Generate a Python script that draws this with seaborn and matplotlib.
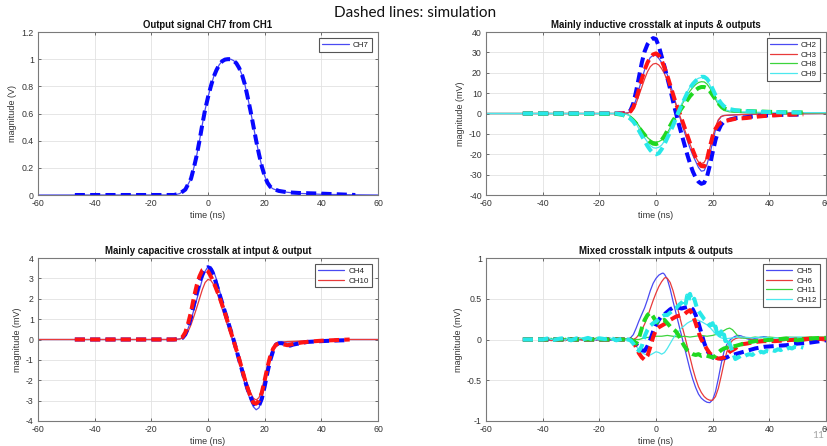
import matplotlib
matplotlib.use("Agg")
import matplotlib.pyplot as plt
import seaborn as sns

# ---------------- DATA ----------------
# Plot 1: Output signal CH7 from CH1 (V)
ch7_meas_t = [-60, -20, -12, -10, -8, -6, -5, -4, -3, -2, -1, 0, 1, 2, 3, 4, 5, 6, 7, 8, 9, 10, 11, 12, 13, 14, 15, 16, 17, 18, 19, 20, 21, 22, 23, 25, 28, 32, 40, 50, 60]
ch7_meas_v = [0, 0, 0, 0.01, 0.04, 0.12, 0.20, 0.29, 0.40, 0.52, 0.63, 0.72, 0.80, 0.87, 0.92, 0.96, 0.985, 0.997, 1.0, 1.0, 0.99, 0.97, 0.935, 0.885, 0.815, 0.72, 0.62, 0.51, 0.40, 0.30, 0.21, 0.14, 0.09, 0.06, 0.045, 0.03, 0.02, 0.012, 0.005, 0.002, 0]
ch7_sim_t = [-47, -20, -12, -10, -8, -6, -5, -4, -3, -2, -1, 0, 1, 2, 3, 4, 5, 6, 7, 8, 9, 10, 11, 12, 13, 14, 15, 16, 17, 18, 19, 20, 21, 22, 23, 25, 28, 32, 40, 46, 52]
ch7_sim_v = [0, 0, 0, 0.01, 0.04, 0.12, 0.20, 0.29, 0.40, 0.52, 0.63, 0.72, 0.80, 0.87, 0.92, 0.96, 0.985, 0.997, 1.0, 1.0, 0.99, 0.97, 0.935, 0.885, 0.815, 0.72, 0.62, 0.51, 0.40, 0.30, 0.21, 0.14, 0.09, 0.06, 0.045, 0.03, 0.02, 0.015, 0.01, 0.005, 0]

# Plot 2: Mainly inductive crosstalk (mV)
p2_meas_t = [-60, -12, -10, -9, -8, -7, -6, -5, -4, -3, -2, -1, 0, 1, 2, 3, 4, 5, 6, 7, 8, 9, 10, 11, 12, 13, 14, 15, 16, 17, 18, 19, 20, 21, 22, 23, 24, 26, 30, 40, 60]
ch2_meas = [0, 0, 0.3, 1, 3, 7, 12, 17, 21.5, 25, 27.5, 28.5, 28.5, 27, 25, 22.5, 19, 14.5, 10, 5, 0, -4.5, -9, -13, -17, -20.5, -23.5, -26.5, -28.3, -28, -25, -20, -14, -8, -3.5, -1.5, -1, -0.8, -0.5, -0.2, 0]
ch3_meas = [0, 0, 0.2, 0.8, 2, 5, 9, 13, 17, 20.5, 23, 24.3, 24.6, 23.8, 22, 19.5, 16, 12.5, 8.5, 4.5, 0.5, -3.5, -7.5, -11.5, -15, -18.5, -21.5, -23.8, -24.6, -24, -21.5, -17, -11.5, -6.5, -3, -1.5, -1, -0.8, -0.5, -0.2, 0]
ch8_meas = [0, 0, -0.5, -1.3, -2.5, -4, -6, -8, -10, -11.8, -13, -13.8, -14, -13.8, -13, -11.5, -9.5, -7, -4.5, -1.5, 1.5, 4, 6.5, 9, 11, 12.8, 14.2, 15.2, 15.6, 15.5, 14.5, 12.5, 10, 7, 4.5, 2.5, 1.5, 0.8, 0.5, 0.3, 0.3]
ch9_meas = [0, 0, -0.6, -1.5, -3, -5, -7.5, -10, -12, -14, -15.8, -16.8, -17, -16.6, -15.5, -13.5, -11, -8, -5, -1.8, 1.5, 4.5, 7.5, 10.5, 13, 15, 16.5, 17.3, 17.7, 17.5, 16.5, 14, 11, 8, 5, 3, 2, 1.2, 0.8, 0.5, 0.4]
p2_sim_t = [-47, -14, -12, -10, -9, -8, -7, -6, -5, -4, -3, -2, -1, 0, 1, 2, 3, 4, 5, 6, 7, 8, 9, 10, 11, 12, 13, 14, 15, 16, 17, 18, 19, 20, 21, 22, 23, 24, 26, 28, 32, 36, 40, 46, 52]
ch2_sim = [0, 0, 0, 0.3, 1.5, 5, 11, 18, 25, 30.5, 34, 36, 37, 36.5, 33, 28, 23, 17.5, 12, 6, 0.5, -5, -10, -15, -20, -24.5, -28.5, -31.5, -33.5, -34.5, -34, -31, -25.5, -19, -13, -8.5, -5.5, -4, -3, -2.3, -1.8, -1.2, -0.9, -0.6, -0.5]
ch3_sim = [0, 0, 0, 0.3, 1, 3, 7, 12, 17, 21.5, 25, 27.5, 29, 29.5, 28.5, 26, 22.5, 18.5, 14, 9.5, 5, 1.5, -2.5, -6.5, -10.5, -14.5, -18, -21.5, -24, -25.8, -26, -22.5, -16.5, -11, -7.5, -5.5, -4.3, -3.8, -3.2, -2.6, -2.2, -1.5, -1, -0.6, -0.4]
ch8_sim = [0, -0.2, -0.6, -1.5, -2.3, -3.5, -5, -7, -8.8, -10.5, -12.5, -14, -14.8, -15, -14.5, -13, -11, -8.5, -6, -3.5, -1.5, 0.5, 2.5, 4.5, 6.5, 8.5, 10, 11.5, 12.5, 13, 13, 12.5, 11, 9, 7, 5, 3.5, 2.5, 1.7, 1.4, 1.2, 1, 0.8, 0.6, 0.5]
ch9_sim = [0, 0, -0.5, -1.5, -2.6, -4, -6, -8.5, -11, -13.5, -16, -18, -19.5, -20, -19.5, -17.5, -15, -12, -9, -6, -2.5, 1, 4, 7, 10, 12.5, 14.5, 16, 17.3, 18, 18, 17, 15, 12, 9, 7, 5, 3.5, 2.2, 1.6, 1.1, 0.9, 0.7, 0.6, 0.5]

# Plot 3: Mainly capacitive crosstalk (mV)
p3_meas_t = [-60, -20, -12, -10, -9, -8, -7, -6, -5, -4, -3, -2, -1, 0, 1, 2, 3, 4, 5, 6, 7, 8, 9, 10, 11, 12, 13, 14, 15, 16, 17, 18, 19, 20, 21, 22, 23, 24, 25, 28, 32, 40, 50, 60]
ch4_meas = [0, 0, 0, 0.03, 0.1, 0.25, 0.55, 0.95, 1.45, 1.95, 2.45, 2.95, 3.35, 3.58, 3.58, 3.35, 2.95, 2.45, 1.9, 1.35, 0.85, 0.35, -0.15, -0.65, -1.15, -1.65, -2.15, -2.6, -3.0, -3.3, -3.45, -3.35, -2.9, -2.2, -1.5, -0.9, -0.45, -0.25, -0.18, -0.12, -0.1, -0.05, 0, 0]
ch10_meas = [0, 0, 0, 0.02, 0.07, 0.18, 0.4, 0.72, 1.12, 1.55, 2.0, 2.45, 2.8, 2.95, 2.9, 2.7, 2.35, 1.95, 1.5, 1.05, 0.65, 0.25, -0.15, -0.55, -0.97, -1.4, -1.82, -2.2, -2.6, -2.88, -2.97, -2.85, -2.45, -1.85, -1.25, -0.75, -0.4, -0.22, -0.15, -0.1, -0.08, -0.04, 0, 0]
ch4_sim_t = [-47, -30, -12, -10, -9, -8, -7, -6, -5, -4, -3, -2, -1, 0, 1, 2, 3, 4, 5, 6, 7, 8, 9, 10, 11, 12, 13, 14, 15, 16, 17, 18, 19, 20, 21, 22, 23, 24, 25, 26, 27, 28, 29, 30, 35, 40, 45, 50]
ch4_sim = [0, 0, 0, 0.02, 0.08, 0.25, 0.6, 1.1, 1.7, 2.3, 2.85, 3.2, 3.45, 3.55, 3.45, 3.15, 2.7, 2.25, 1.8, 1.35, 0.9, 0.45, 0.0, -0.5, -1.0, -1.5, -2.0, -2.45, -2.8, -3.1, -3.3, -3.25, -2.9, -2.3, -1.6, -1.0, -0.55, -0.25, -0.18, -0.18, -0.22, -0.28, -0.3, -0.25, -0.12, -0.08, -0.05, -0.03]
ch10_sim_t = [-47, -30, -12, -10, -9, -8, -7, -6, -5, -4, -3, -2, -1, 0, 1, 2, 3, 4, 5, 6, 7, 8, 9, 10, 11, 12, 13, 14, 15, 16, 17, 18, 19, 20, 21, 22, 23, 24, 25, 26, 27, 28, 30, 33, 36, 40, 45, 50]
ch10_sim = [0, 0, 0, 0.03, 0.12, 0.35, 0.8, 1.35, 2.05, 2.65, 3.1, 3.4, 3.45, 3.35, 3.1, 2.8, 2.45, 2.1, 1.7, 1.3, 0.85, 0.4, -0.05, -0.5, -0.95, -1.45, -1.95, -2.4, -2.8, -3.1, -3.15, -3.0, -2.6, -2.0, -1.35, -0.8, -0.45, -0.25, -0.2, -0.22, -0.25, -0.28, -0.22, -0.15, -0.1, -0.06, -0.03, 0]

# Plot 4: Mixed crosstalk (mV)
p4_flat_t = [-40, -39, -38, -37, -36, -35, -34, -33, -32, -31, -30, -29, -28, -27, -26, -25, -24, -23, -22, -21, -20, -19, -18, -17, -16, -15, -14, -13, -12, -11, -10, -9]
ch5_flat = [-0.01, 0.0, -0.015, 0.005, -0.01, 0.01, -0.005, -0.015, 0.0, -0.01, 0.005, -0.01, 0.01, -0.005, 0.0, -0.015, 0.005, -0.005, 0.01, -0.01, 0.0, 0.01, -0.005, 0.005, -0.01, 0.0, 0.01, -0.005, 0.005, 0.0, 0.01, 0.02]
ch6_flat = [0.0, -0.01, 0.005, -0.015, 0.0, -0.01, 0.01, -0.005, -0.015, 0.005, -0.01, 0.0, -0.015, 0.005, -0.01, 0.0, -0.01, 0.01, -0.005, 0.0, -0.015, 0.0, 0.005, -0.01, 0.0, -0.005, 0.0, -0.01, 0.005, -0.005, 0.0, 0.0]
ch11_flat = [0.01, 0.02, 0.005, 0.015, 0.0, 0.02, 0.01, 0.0, 0.015, 0.005, 0.02, 0.0, 0.01, 0.02, 0.005, 0.01, 0.0, 0.015, 0.005, 0.02, 0.01, 0.0, 0.01, 0.015, 0.0, 0.01, 0.005, 0.015, 0.0, 0.01, 0.005, 0.0]
ch12_flat = [0.02, -0.01, 0.025, 0.0, 0.015, -0.015, 0.02, 0.005, -0.01, 0.025, 0.0, 0.01, -0.02, 0.015, 0.02, -0.005, 0.01, 0.025, -0.01, 0.005, 0.02, -0.015, 0.01, 0.0, 0.02, -0.01, 0.015, 0.0, 0.01, -0.01, 0.005, 0.0]
ch5_act_t = [-8, -7, -6, -5, -4, -3, -2, -1, 0, 1, 2, 2.5, 3, 4, 5, 6, 7, 8, 9, 10, 11, 12, 13, 14, 15, 16, 17, 18, 19, 20, 21, 22, 23, 24, 25, 26, 27, 28, 29, 30, 31, 32, 33, 34, 35, 36, 37, 38, 39, 40, 42, 44, 46, 48, 50, 52, 54, 56, 58, 60]
ch5_act = [0.06, 0.14, 0.23, 0.31, 0.39, 0.49, 0.6, 0.69, 0.75, 0.79, 0.81, 0.815, 0.8, 0.74, 0.62, 0.47, 0.33, 0.19, 0.05, -0.09, -0.23, -0.37, -0.49, -0.59, -0.67, -0.72, -0.75, -0.77, -0.775, -0.74, -0.64, -0.48, -0.3, -0.15, -0.06, -0.01, 0.02, 0.04, 0.05, 0.045, 0.03, 0.01, 0.0, 0.005, 0.015, 0.02, 0.03, 0.035, 0.03, 0.015, 0.0, -0.01, 0.0, -0.01, 0.005, 0.0, -0.005, 0.01, 0.005, 0.01]
ch6_act_t = [-8, -7, -6, -5, -4, -3, -2, -1, 0, 1, 2, 3, 3.5, 4, 5, 6, 7, 8, 9, 10, 11, 12, 13, 14, 15, 16, 17, 18, 19, 20, 21, 22, 23, 24, 25, 26, 27, 28, 29, 30, 31, 32, 34, 36, 38, 40, 42, 44, 46, 48, 50, 52, 54, 56, 58, 60]
ch6_act = [0.0, 0.02, 0.06, 0.12, 0.19, 0.28, 0.38, 0.48, 0.57, 0.65, 0.71, 0.755, 0.76, 0.75, 0.7, 0.6, 0.47, 0.33, 0.19, 0.06, -0.08, -0.22, -0.36, -0.48, -0.58, -0.65, -0.7, -0.73, -0.745, -0.745, -0.7, -0.6, -0.45, -0.29, -0.15, -0.06, -0.01, 0.01, 0.02, 0.02, 0.03, 0.02, 0.0, -0.01, 0.0, -0.015, -0.01, -0.02, -0.01, -0.015, -0.01, -0.02, -0.01, -0.015, -0.01, -0.02]
ch11_act_t = [-8, -6, -4, -2, 0, 2, 4, 6, 8, 10, 12, 14, 16, 18, 20, 22, 23, 24, 25, 26, 27, 28, 29, 30, 31, 33, 35, 37, 40, 43, 46, 50, 55, 60]
ch11_act = [0.0, 0.0, 0.02, 0.03, 0.04, 0.04, 0.05, 0.04, 0.03, 0.04, 0.03, 0.04, 0.05, 0.04, 0.05, 0.07, 0.09, 0.11, 0.13, 0.14, 0.12, 0.08, 0.04, 0.02, 0.015, 0.02, 0.03, 0.02, 0.03, 0.02, 0.03, 0.025, 0.03, 0.03]
ch12_act_t = [-8, -7, -6, -5, -4, -3, -2, -1, 0, 1, 2, 3, 4, 5, 6, 7, 8, 9, 10, 11, 12, 13, 14, 15, 16, 17, 18, 19, 20, 21, 22, 23, 24, 25, 27, 29, 31, 34, 37, 40, 45, 50, 55, 60]
ch12_act = [-0.02, -0.08, -0.13, -0.16, -0.18, -0.19, -0.19, -0.17, -0.15, -0.16, -0.18, -0.16, -0.11, -0.05, 0.01, 0.06, 0.1, 0.14, 0.17, 0.2, 0.22, 0.235, 0.24, 0.235, 0.22, 0.2, 0.18, 0.15, 0.11, 0.07, 0.04, 0.02, 0.01, 0.01, 0.02, 0.03, 0.03, 0.02, 0.03, 0.02, 0.02, 0.03, 0.02, 0.02]

p4_sim_t = [-47, -30, -15, -10, -9, -8, -7, -6, -5, -4, -3, -2, -1, 0, 1, 2, 3, 4, 5, 6, 7, 8, 9, 10, 11, 12, 13, 14, 15, 16, 17, 18, 19, 20, 21, 22, 23, 24, 25, 26, 27, 28, 29, 30, 32, 35, 38, 42, 46, 50, 54, 58, 60]
ch5_sim = [0, 0, 0, 0, 0, -0.03, -0.06, -0.1, -0.13, -0.14, -0.08, 0.0, 0.1, 0.18, 0.24, 0.29, 0.31, 0.34, 0.37, 0.39, 0.4, 0.39, 0.38, 0.39, 0.4, 0.4, 0.37, 0.3, 0.2, 0.08, -0.04, -0.13, -0.19, -0.22, -0.23, -0.235, -0.235, -0.23, -0.22, -0.2, -0.19, -0.18, -0.17, -0.16, -0.14, -0.11, -0.09, -0.08, -0.07, -0.05, -0.04, -0.02, -0.01]
ch6_sim = [0, 0, 0, 0, 0, -0.02, -0.1, -0.17, -0.22, -0.25, -0.2, -0.09, 0.03, 0.12, 0.15, 0.17, 0.19, 0.21, 0.24, 0.26, 0.28, 0.29, 0.3, 0.31, 0.34, 0.36, 0.3, 0.2, 0.09, 0.0, -0.06, -0.12, -0.17, -0.2, -0.22, -0.235, -0.23, -0.22, -0.19, -0.15, -0.13, -0.11, -0.08, -0.06, -0.05, -0.03, -0.02, -0.02, -0.01, 0.0, 0.01, 0.01, 0.01]
ch11_sim = [0, 0, 0, 0, 0, -0.02, -0.05, 0.02, 0.14, 0.24, 0.3, 0.33, 0.28, 0.22, 0.2, 0.23, 0.24, 0.2, 0.16, 0.13, 0.1, 0.05, -0.02, -0.08, -0.13, -0.16, -0.18, -0.19, -0.18, -0.2, -0.19, -0.2, -0.21, -0.22, -0.2, -0.16, -0.13, -0.11, -0.1, -0.09, -0.085, -0.08, -0.07, -0.06, -0.04, -0.02, -0.01, 0.0, 0.01, -0.01, 0.01, 0.02, 0.02]
ch12_sim_t = [-47, -40, -38, -36, -34, -32, -30, -28, -26, -24, -22, -20, -18, -16, -14, -12, -10, -9, -8, -7, -6, -5, -4, -3, -2, -1, 0, 1, 2, 3, 4, 5, 6, 7, 8, 9, 10, 10.5, 11, 11.5, 12, 12.5, 13, 13.5, 14, 14.5, 15, 16, 17, 18, 19, 20, 20.5, 21, 21.5, 22, 22.5, 23, 23.5, 24, 24.5, 25, 26, 27, 28, 29, 30, 31, 32, 33, 34, 35, 36, 37, 38, 39, 40, 41, 42, 43, 44, 45, 46, 47, 48, 49, 50, 51, 52]
ch12_sim = [0, 0, 0.015, -0.005, 0.01, 0.02, -0.01, 0.015, 0.0, 0.02, -0.005, 0.015, 0.005, 0.02, -0.01, 0.01, 0, -0.01, -0.05, -0.1, -0.14, -0.08, 0.04, 0.12, 0.17, 0.2, 0.22, 0.25, 0.28, 0.3, 0.3, 0.33, 0.36, 0.38, 0.42, 0.45, 0.49, 0.44, 0.54, 0.48, 0.56, 0.5, 0.47, 0.5, 0.44, 0.38, 0.35, 0.3, 0.25, 0.22, 0.17, 0.2, 0.12, 0.16, 0.08, 0.12, 0.05, 0.1, 0.02, 0.06, -0.02, 0.02, -0.05, -0.15, -0.24, -0.22, -0.2, -0.21, -0.19, -0.18, -0.19, -0.16, -0.17, -0.15, -0.16, -0.14, -0.15, -0.13, -0.14, -0.12, -0.13, -0.11, -0.12, -0.1, -0.11, -0.09, -0.1, -0.09, -0.1]

titles = ["Output signal CH7 from CH1", "Mainly inductive crosstalk at inputs & outputs",
          "Mainly capacitive crosstalk at intput & output", "Mixed crosstalk intputs & outputs"]
ylabels = ["magnitude (V)", "magnitude (mV)", "magnitude (mV)", "magnitude (mV)"]
xticks = [-60, -40, -20, 0, 20, 40, 60]
yticks = [[0, 0.2, 0.4, 0.6, 0.8, 1, 1.2], list(range(-40, 41, 10)), list(range(-4, 5)), [-1, -0.5, 0, 0.5, 1]]
ylims = [(0, 1.2), (-40, 40), (-4, 4), (-1, 1)]

# ---------------- STYLE ----------------
sns.set_theme(style="whitegrid")
plt.rcParams["font.family"] = ["Liberation Sans", "DejaVu Sans"]

THIN = {"b": "#4a4af2", "r": "#e83a3a", "g": "#3cd43c", "c": "#4ce8ee"}
DASH = {"b": "#0808ff", "r": "#ff1414", "g": "#20d820", "c": "#28e8e8"}
DLS = (0, (2.5, 1.3))
DLW = 2.9
TLW = 0.9

fig = plt.figure(figsize=(8.27, 4.46), dpi=100)
W, H = 827, 446
pos = [(38, 32), (486, 32), (38, 258), (486, 258)]
axes = [fig.add_axes([x / W, 1 - (y + 163) / H, 340 / W, 163 / H]) for x, y in pos]


def thin(ax, t, v, c, lab):
    sns.lineplot(x=t, y=v, ax=ax, color=THIN[c], lw=TLW, label=lab, estimator=None, sort=False)


def dashed(ax, t, v, c):
    sns.lineplot(x=t, y=v, ax=ax, color=DASH[c], lw=DLW, linestyle=DLS, legend=False,
                 estimator=None, sort=False, label="_nolegend_")


ax1, ax2, ax3, ax4 = axes
thin(ax1, ch7_meas_t, ch7_meas_v, "b", "CH7")
dashed(ax1, ch7_sim_t, ch7_sim_v, "b")

thin(ax2, p2_meas_t, ch2_meas, "b", "CH2")
thin(ax2, p2_meas_t, ch3_meas, "r", "CH3")
thin(ax2, p2_meas_t, ch8_meas, "g", "CH8")
thin(ax2, p2_meas_t, ch9_meas, "c", "CH9")
dashed(ax2, p2_sim_t, ch2_sim, "b")
dashed(ax2, p2_sim_t, ch3_sim, "r")
dashed(ax2, p2_sim_t, ch8_sim, "g")
dashed(ax2, p2_sim_t, ch9_sim, "c")

thin(ax3, p3_meas_t, ch4_meas, "b", "CH4")
thin(ax3, p3_meas_t, ch10_meas, "r", "CH10")
dashed(ax3, ch4_sim_t, ch4_sim, "b")
dashed(ax3, ch10_sim_t, ch10_sim, "r")

thin(ax4, p4_flat_t + ch5_act_t, ch5_flat + ch5_act, "b", "CH5")
thin(ax4, p4_flat_t + ch6_act_t, ch6_flat + ch6_act, "r", "CH6")
thin(ax4, p4_flat_t + ch11_act_t, ch11_flat + ch11_act, "g", "CH11")
thin(ax4, p4_flat_t + ch12_act_t, ch12_flat + ch12_act, "c", "CH12")
dashed(ax4, p4_sim_t, ch5_sim, "b")
dashed(ax4, p4_sim_t, ch6_sim, "r")
dashed(ax4, p4_sim_t, ch11_sim, "g")
dashed(ax4, ch12_sim_t, ch12_sim, "c")

for i, ax in enumerate(axes):
    ax.set_facecolor("white")
    ax.set_xlim(-60, 60)
    ax.set_ylim(*ylims[i])
    ax.set_xticks(xticks)
    ax.set_yticks(yticks[i])
    ax.set_xticklabels([f"{v:g}" for v in xticks])
    ax.set_yticklabels([f"{v:g}" for v in yticks[i]])
    ax.grid(True, color="#e2e2e2", lw=0.6)
    ax.set_axisbelow(True)
    for s in ax.spines.values():
        s.set_visible(True)
        s.set_color("#7a7a7a")
        s.set_linewidth(0.8)
    ax.tick_params(axis="both", which="major", direction="in", length=2.5, width=0.6,
                   color="#555555", labelsize=6.3, labelcolor="#333333",
                   top=True, right=True, bottom=True, left=True)
    ax.tick_params(axis="x", pad=3.2)
    ax.tick_params(axis="y", pad=3.0)
    ax.set_title(titles[i], fontsize=6.9, fontweight="bold", color="#111111", pad=3)
    ax.set_xlabel("time (ns)", fontsize=6.5, color="#333333", labelpad=1.5)
    ax.set_ylabel(ylabels[i], fontsize=6.5, color="#333333", labelpad=3)
    leg = ax.legend(loc="upper right", fontsize=5.8, frameon=True, fancybox=False,
                    edgecolor="#555555", framealpha=1, handlelength=3.3, handletextpad=0.5,
                    borderaxespad=0.8, labelspacing=0.25, borderpad=0.35)
    leg.get_frame().set_linewidth(0.8)
    for txt in leg.get_texts():
        txt.set_color("#222222")

fig.text(415 / W, 1 - 13 / H, "Dashed lines: simulation", ha="center", va="center",
         fontsize=11, family=["Lato", "DejaVu Sans"], color="#111111")
fig.text(818 / W, 1 - 436 / H, "11", ha="center", va="center", fontsize=7.5,
         family=["Lato", "DejaVu Sans"], color="#a6a6a6")

fig.savefig("out.png", dpi=100, facecolor="white")
